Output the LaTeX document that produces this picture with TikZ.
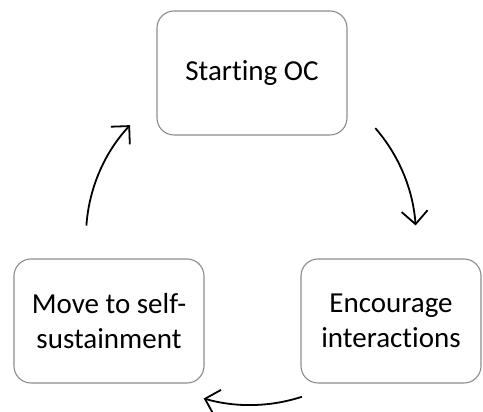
\documentclass[tikz,border=0pt]{standalone}
\usepackage{fontspec}
\setmainfont{Carlito}[Ligatures=NoCommon]
\usetikzlibrary{arrows.meta,calc}
\begin{document}
\begin{tikzpicture}[x=1pt,y=1pt,
  stage/.style={draw=black!45, line width=1.1pt, rounded corners=17pt, fill=white,
    minimum width=190pt, minimum height=124pt, align=center, inner sep=0pt,
    font=\fontsize{29}{35}\selectfont},
  cyc/.style={line width=1.8pt,
    -{Straight Barb[length=13pt,width=26pt,line width=1.8pt]}}]
\useasboundingbox (0,0) rectangle (483,412);
% the three stages of the cycle
\node[stage] (start) at (252,339) {Starting OC};
\node[stage] (self) at (109,91) {Move to self-\\sustainment};
\node[stage, minimum width=180pt] (enc) at (391,91) {Encourage\\interactions};
% centre of the cycle and the arcs between stages
\coordinate (hub) at (250,175);
\coordinate (a1) at ($(hub)+(41:166)$);
\coordinate (a2) at ($(hub)+(-72:168)$);
\coordinate (a3) at ($(hub)+(176:164)$);
\draw[cyc] (a1) arc[start angle=41, end angle=4, radius=166];
\draw[cyc] (a2) arc[start angle=-72, end angle=-106, radius=168];
\draw[cyc] (a3) arc[start angle=176, end angle=137, radius=164];
\end{tikzpicture}
\end{document}
